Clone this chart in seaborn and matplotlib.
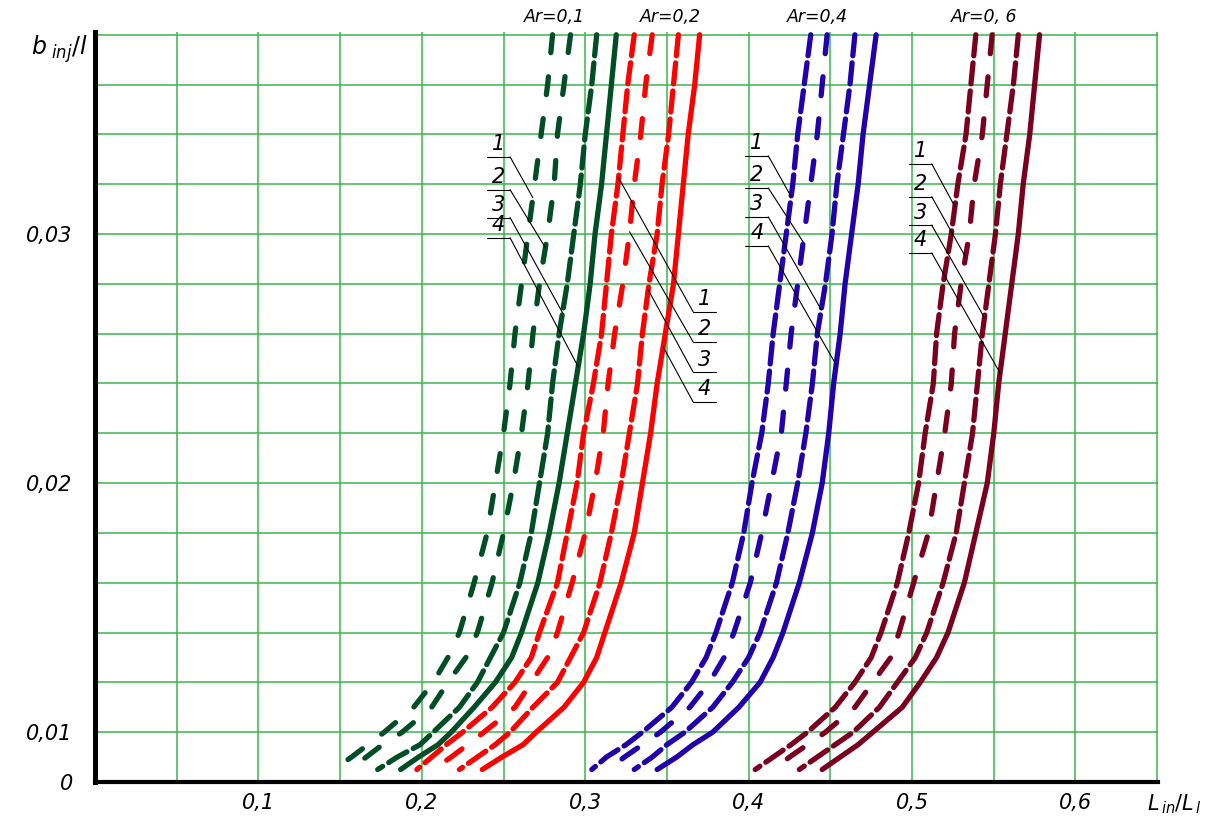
import numpy as np
import pandas as pd
import matplotlib
matplotlib.use("Agg")
import matplotlib.pyplot as plt
import seaborn as sns

y_levels = [0.038, 0.036, 0.034, 0.032, 0.030, 0.028, 0.026, 0.024, 0.022, 0.020,
            0.018, 0.016, 0.014, 0.013, 0.012, 0.011, 0.010, 0.0075, 0.005, 0.0025]

# L_in/L_l of curves 1..4 for every Ar
ar01_c1 = [0.280, 0.277, 0.273, 0.269, 0.265, 0.261, 0.257, 0.254, 0.250, 0.245,
           0.240, 0.232, 0.223, 0.216, 0.207, 0.195, 0.177, 0.167, 0.157, 0.146]
ar01_c2 = [0.291, 0.287, 0.283, 0.281, 0.277, 0.272, 0.268, 0.265, 0.261, 0.256,
           0.250, 0.243, 0.234, 0.227, 0.216, 0.206, 0.188, 0.176, 0.166, 0.156]
ar01_c3 = [0.307, 0.304, 0.300, 0.297, 0.293, 0.289, 0.284, 0.280, 0.277, 0.272,
           0.267, 0.260, 0.250, 0.242, 0.234, 0.223, 0.207, 0.199, 0.185, 0.173]
ar01_c4 = [0.319, 0.316, 0.313, 0.310, 0.306, 0.303, 0.299, 0.294, 0.289, 0.284,
           0.278, 0.271, 0.261, 0.255, 0.245, 0.232, 0.218, 0.210, 0.198, 0.187]

ar02_c1 = [0.330, 0.326, 0.323, 0.320, 0.316, 0.313, 0.310, 0.305, 0.299, 0.295,
           0.289, 0.283, 0.272, 0.267, 0.257, 0.243, 0.225, 0.215, 0.206, 0.197]
ar02_c2 = [0.341, 0.337, 0.334, 0.330, 0.327, 0.323, 0.318, 0.314, 0.311, 0.306,
           0.300, 0.292, 0.283, 0.277, 0.267, 0.257, 0.238, 0.228, 0.218, 0.207]
ar02_c3 = [0.357, 0.354, 0.351, 0.347, 0.344, 0.339, 0.335, 0.332, 0.327, 0.322,
           0.316, 0.309, 0.299, 0.291, 0.283, 0.268, 0.254, 0.245, 0.234, 0.223]
ar02_c4 = [0.370, 0.367, 0.363, 0.360, 0.357, 0.354, 0.349, 0.344, 0.340, 0.335,
           0.330, 0.322, 0.312, 0.307, 0.299, 0.287, 0.270, 0.262, 0.249, 0.237]

ar04_c1 = [0.438, 0.434, 0.430, 0.427, 0.423, 0.419, 0.415, 0.412, 0.408, 0.402,
           0.397, 0.390, 0.380, 0.374, 0.365, 0.353, 0.335, 0.325, 0.313, 0.304]
ar04_c2 = [0.448, 0.445, 0.442, 0.438, 0.434, 0.430, 0.426, 0.423, 0.420, 0.414,
           0.408, 0.401, 0.391, 0.385, 0.376, 0.364, 0.346, 0.335, 0.324, 0.314]
ar04_c3 = [0.465, 0.462, 0.458, 0.454, 0.451, 0.447, 0.442, 0.439, 0.435, 0.430,
           0.424, 0.417, 0.407, 0.400, 0.390, 0.378, 0.361, 0.350, 0.341, 0.330]
ar04_c4 = [0.478, 0.474, 0.470, 0.467, 0.463, 0.459, 0.456, 0.452, 0.449, 0.445,
           0.439, 0.431, 0.421, 0.415, 0.407, 0.394, 0.378, 0.366, 0.356, 0.344]

ar06_c1 = [0.539, 0.536, 0.533, 0.528, 0.524, 0.519, 0.515, 0.513, 0.508, 0.504,
           0.498, 0.491, 0.481, 0.475, 0.465, 0.453, 0.436, 0.426, 0.415, 0.404]
ar06_c2 = [0.549, 0.546, 0.543, 0.538, 0.535, 0.530, 0.526, 0.524, 0.520, 0.515,
           0.510, 0.501, 0.492, 0.487, 0.476, 0.465, 0.447, 0.436, 0.425, 0.415]
ar06_c3 = [0.565, 0.562, 0.558, 0.554, 0.551, 0.547, 0.543, 0.540, 0.537, 0.532,
           0.527, 0.519, 0.509, 0.502, 0.491, 0.480, 0.464, 0.453, 0.442, 0.431]
ar06_c4 = [0.578, 0.575, 0.572, 0.568, 0.565, 0.561, 0.557, 0.553, 0.550, 0.546,
           0.539, 0.532, 0.522, 0.515, 0.505, 0.494, 0.476, 0.467, 0.456, 0.445]

ar_labels = ["Ar=0,1", "Ar=0,2", "Ar=0,4", "Ar=0, 6"]
ar_colors = ["#004d26", "#ff0000", "#2200aa", "#7a0020"]
families = [
    [ar01_c1, ar01_c2, ar01_c3, ar01_c4],
    [ar02_c1, ar02_c2, ar02_c3, ar02_c4],
    [ar04_c1, ar04_c2, ar04_c3, ar04_c4],
    [ar06_c1, ar06_c2, ar06_c3, ar06_c4],
]

x_ticks = [0.1, 0.2, 0.3, 0.4, 0.5, 0.6]
x_ticklabels = ["0,1", "0,2", "0,3", "0,4", "0,5", "0,6"]
y_ticks = [0, 0.01, 0.02, 0.03]
y_ticklabels = ["0", "0,01", "0,02", "0,03"]

sns.set_style("white")
plt.rcParams["font.family"] = ["DejaVu Sans"]
plt.rcParams["mathtext.fontset"] = "dejavusans"
plt.rcParams["text.color"] = "black"
plt.rcParams["xtick.color"] = "black"
plt.rcParams["ytick.color"] = "black"


# broken y axis: 0..0.01 squeezed into one grid cell, then 0.002 per cell
def fwd(y):
    y = np.asarray(y, dtype=float)
    return np.where(y <= 0.01, y / 0.01, 1 + (y - 0.01) / 0.002)


def inv(u):
    u = np.asarray(u, dtype=float)
    return np.where(u <= 1, u * 0.01, 0.01 + (u - 1) * 0.002)


fig = plt.figure(figsize=(12.24, 8.19), dpi=100)
ax = fig.add_axes([0.0776, 0.0452, 0.8685, 0.916])
ax.set_yscale("function", functions=(fwd, inv))
ax.set_xlim(0, 0.6505)
ax.set_ylim(0, 0.03812)

# grid
ax.set_xticks(x_ticks)
ax.set_xticks(np.arange(0.05, 0.66, 0.05), minor=True)
ax.set_yticks(y_ticks)
ax.set_yticks(np.arange(0.01, 0.0385, 0.002), minor=True)
ax.grid(which="both", color="#3cb54f", lw=1.1, zorder=0)
ax.set_axisbelow(True)

dash_styles = {"1": (4.0, 1.35), "2": (3.6, 4.4), "3": (4.0, 1.35), "4": ""}
green_styles = {"1": (3.4, 4.6), "2": (3.4, 4.6), "3": (4.0, 1.35), "4": ""}

for i, (curves, color) in enumerate(zip(families, ar_colors)):
    rows = []
    for k, cx in enumerate(curves):
        for xv, yv in zip(cx, y_levels):
            rows.append({"x": xv, "y": yv, "curve": str(k + 1)})
    df = pd.DataFrame(rows)
    sns.lineplot(data=df, x="x", y="y", style="curve",
                 dashes=green_styles if i == 0 else dash_styles,
                 color=color, lw=3.8, sort=False, estimator=None,
                 legend=False, ax=ax, zorder=3,
                 dash_capstyle="round", solid_capstyle="round",
                 solid_joinstyle="round", dash_joinstyle="round")

# curve number labels with leader lines
label_specs = [
    # underline x from/to, text y levels, y where leader meets the curve, side
    (0.240, 0.254, [0.0331, 0.03178, 0.03066, 0.02985], [0.03146, 0.02945, 0.02684, 0.02467], "left"),
    (0.366, 0.380, [0.02688, 0.02567, 0.02446, 0.02326], [0.03226, 0.03009, 0.02776, 0.02547], "right"),
    (0.398, 0.412, [0.03314, 0.03185, 0.03069, 0.02952], [0.0315, 0.02968, 0.02696, 0.02475], "left"),
    (0.498, 0.512, [0.03282, 0.0315, 0.03036, 0.02924], [0.0311, 0.02908, 0.02664, 0.02442], "left"),
]
lev = np.array(y_levels)[::-1]
for (x0, x1, y_txt, y_hit, side), curves in zip(label_specs, families):
    for k, (cx, yt, yh) in enumerate(zip(curves, y_txt, y_hit)):
        xh = np.interp(yh, lev, np.array(cx)[::-1])
        xj = x1 if side == "left" else x0
        ax.plot([x0, x1], [yt, yt], color="black", lw=0.8, zorder=4)
        ax.plot([xj, xh], [yt, yh], color="black", lw=0.8, zorder=4)
        ax.text((x0 + x1) / 2, yt + 0.0001, str(k + 1), ha="center", va="bottom",
                fontsize=15, style="italic", zorder=5)

# Ar labels above the plot
for xt, txt in zip([0.281, 0.352, 0.442, 0.544], ar_labels):
    ax.text(xt, 0.0387, txt, ha="center", va="center", fontsize=12.5,
            style="italic", clip_on=False)

ax.set_xticklabels(x_ticklabels, fontsize=15, style="italic")
ax.set_yticklabels(y_ticklabels, fontsize=15, style="italic")
ax.tick_params(which="both", length=0)
ax.tick_params(axis="x", pad=8)
ax.tick_params(axis="y", pad=16)
ax.set_xlabel("")
ax.set_ylabel("")

for s in ["top", "right"]:
    ax.spines[s].set_visible(False)
for s in ["left", "bottom"]:
    ax.spines[s].set_color("black")
    ax.spines[s].set_zorder(6)
ax.spines["left"].set_linewidth(3.6)
ax.spines["bottom"].set_linewidth(3.0)

fig.text(0.025, 0.94, r"$b_{\ inj}/l$", fontsize=17, ha="left", va="center")
fig.text(0.937, 0.018, r"$L_{\,in}/L_{\,l}$", fontsize=15, ha="left", va="center")

fig.savefig("out.png", dpi=100)
